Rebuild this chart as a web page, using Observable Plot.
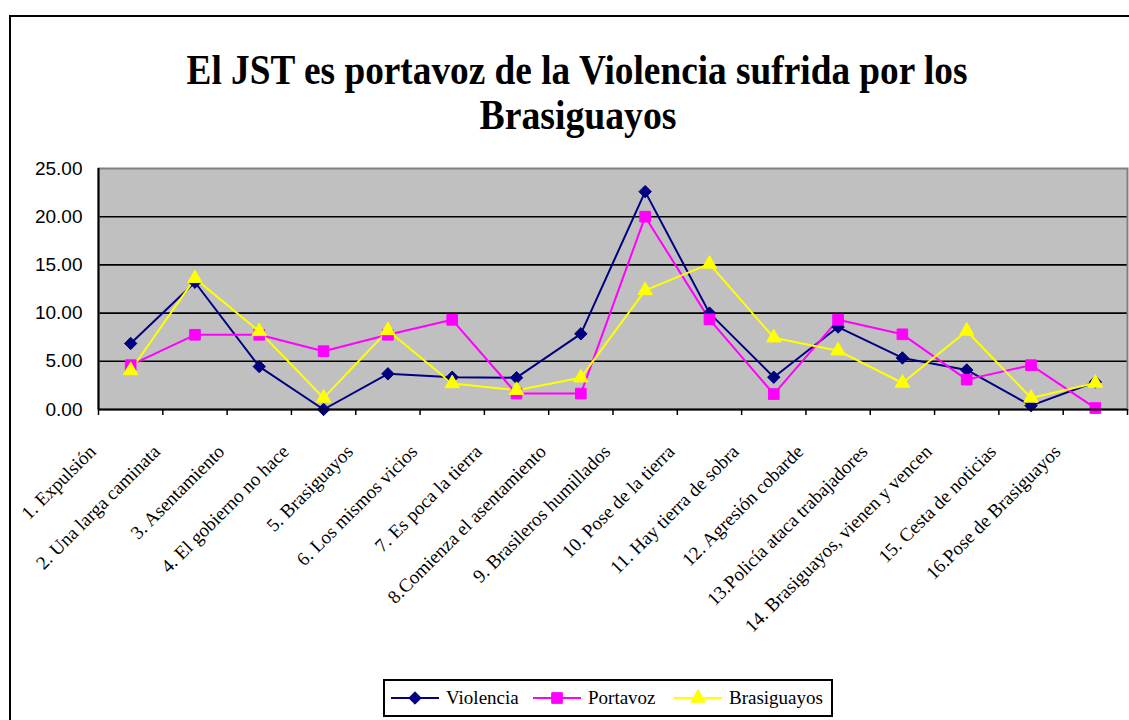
<!DOCTYPE html>
<html>
<head>
<meta charset="utf-8">
<script src="https://cdn.jsdelivr.net/npm/d3@7"></script>
<script src="https://cdn.jsdelivr.net/npm/@observablehq/plot@0.6"></script>
<style>
  html, body { margin: 0; padding: 0; background: #fff; }
  #wrap { position: relative; width: 1129px; height: 720px; overflow: hidden; }
  #border { position: absolute; left: 9px; top: 15px; width: 1130px; height: 710px;
            border-left: 2px solid #000; border-top: 2px solid #000; box-sizing: border-box; }
  #title { position: absolute; left: 0; top: 0; }
  #chart { position: absolute; left: 0; top: 0; }
  #legend { position: absolute; left: 383px; top: 679px; width: 450px; height: 38px;
            border: 2px solid #000; box-sizing: border-box; background: #fff;
            font-family: "Liberation Serif", "Times New Roman", serif; font-size: 19px; }
  .item { position: absolute; top: 0; height: 34px; display: flex; align-items: center; }
  .item svg { margin-right: 7px; }
</style>
</head>
<body>
<div id="wrap">
  <div id="border"></div>
  <svg id="title" width="1129" height="160">
    <text x="577" y="84" text-anchor="middle" font-family="Liberation Serif, Times New Roman, serif" font-weight="bold" font-size="42" textLength="781" lengthAdjust="spacingAndGlyphs">El JST es portavoz de la Violencia sufrida por los</text>
    <text x="578" y="129" text-anchor="middle" font-family="Liberation Serif, Times New Roman, serif" font-weight="bold" font-size="42" textLength="197" lengthAdjust="spacingAndGlyphs">Brasiguayos</text>
  </svg>
  <div id="chart"></div>
  <div id="legend"></div>
</div>
<script>
const categories = [
  "1. Expulsión",
  "2. Una larga caminata",
  "3. Asentamiento",
  "4. El gobierno no hace",
  "5. Brasiguayos",
  "6. Los mismos vicios",
  "7. Es poca la tierra",
  "8.Comienza el asentamiento",
  "9. Brasileros humillados",
  "10. Pose de la tierra",
  "11. Hay tierra de sobra",
  "12. Agresión cobarde",
  "13.Policía ataca trabajadores",
  "14. Brasiguayos, vienen y vencen",
  "15. Cesta de noticias",
  "16.Pose de Brasiguayos"
];
const violencia   = [6.85, 13.2, 4.45, 0.0, 3.7, 3.35, 3.3, 7.85, 22.6, 10.0, 3.35, 8.55, 5.35, 4.1, 0.4, 2.85];
const portavoz    = [4.6, 7.75, 7.75, 6.05, 7.75, 9.3, 1.65, 1.65, 20.0, 9.35, 1.6, 9.3, 7.8, 3.1, 4.6, 0.15];
const brasiguayos = [4.05, 13.6, 8.1, 1.2, 8.2, 2.7, 2.0, 3.3, 12.35, 15.1, 7.45, 6.1, 2.75, 8.15, 1.2, 2.75];
const yTicks = [0, 5, 10, 15, 20, 25];

const seriesDefs = [
  {name: "Violencia", values: violencia, color: "#000080", symbol: "diamond2", r: 5.6},
  {name: "Portavoz", values: portavoz, color: "#FF00FF", symbol: "square", r: 6.0},
  {name: "Brasiguayos", values: brasiguayos, color: "#FFFF00", symbol: "triangle", r: 5.4}
];

const idx = categories.map((_, i) => i + 1);
const boundaries = d3.range(0.5, categories.length + 1, 1);

const marks = [
  Plot.frame({fill: "#C0C0C0", stroke: null}),
  Plot.ruleY([5, 10, 15, 20], {stroke: "#000", strokeWidth: 1.6}),
  Plot.frame({stroke: "#808080", strokeWidth: 2})
];
for (const s of seriesDefs) {
  const rows = idx.map((i, k) => ({i, v: s.values[k]}));
  marks.push(Plot.line(rows, {x: "i", y: "v", stroke: s.color, strokeWidth: 2}));
}
for (const s of seriesDefs) {
  const rows = idx.map((i, k) => ({i, v: s.values[k]}));
  marks.push(Plot.dot(rows, {x: "i", y: "v", symbol: () => s.symbol, fill: s.color, stroke: s.color, strokeWidth: 1, r: s.r}));
}
marks.push(
  Plot.ruleX([0.5], {stroke: "#000", strokeWidth: 2}),
  Plot.ruleY([0], {stroke: "#000", strokeWidth: 2}),
  Plot.axisY({ticks: yTicks, tickSize: 6, tickPadding: 10, tickFormat: d => d.toFixed(2), label: null,
    fontSize: 19, fontFamily: "Liberation Sans, Arial, sans-serif", fill: "#000", stroke: null}),
  Plot.axisX({ticks: boundaries, tickSize: 6, tickFormat: () => "", label: null, stroke: "#000", strokeWidth: 1.5}),
  Plot.axisX({ticks: idx, tickSize: 0, tickPadding: 39, tickRotate: -45, label: null,
    tickFormat: i => categories[i - 1], dx: -38,
    fontSize: 19, fontFamily: "Liberation Serif, Times New Roman, serif", fill: "#000"})
);

const chart = Plot.plot({
  width: 1129,
  height: 680,
  marginLeft: 98,
  marginRight: 2,
  marginTop: 168,
  marginBottom: 271,
  x: {type: "linear", domain: [0.5, categories.length + 0.5], axis: null},
  y: {domain: [0, 25], axis: null},
  symbol: {type: "identity"},
  style: {background: "transparent", overflow: "visible"},
  marks
});
document.getElementById("chart").appendChild(chart);

// legend
const legend = document.getElementById("legend");
const positions = [6, 148, 289];
seriesDefs.forEach((s, k) => {
  const div = document.createElement("div");
  div.className = "item";
  div.style.left = positions[k] + "px";
  const sym = d3.symbol(
    s.symbol === "diamond2" ? d3.symbolDiamond2 : s.symbol === "square" ? d3.symbolSquare : d3.symbolTriangle,
    Math.PI * s.r * s.r)();
  div.innerHTML = `<svg width="48" height="20"><line x1="0" x2="48" y1="10" y2="10" stroke="${s.color}" stroke-width="2"/>` +
    `<path d="${sym}" transform="translate(24,10)" fill="${s.color}" stroke="${s.color}"/></svg><span>${s.name}</span>`;
  legend.appendChild(div);
});
</script>
</body>
</html>
